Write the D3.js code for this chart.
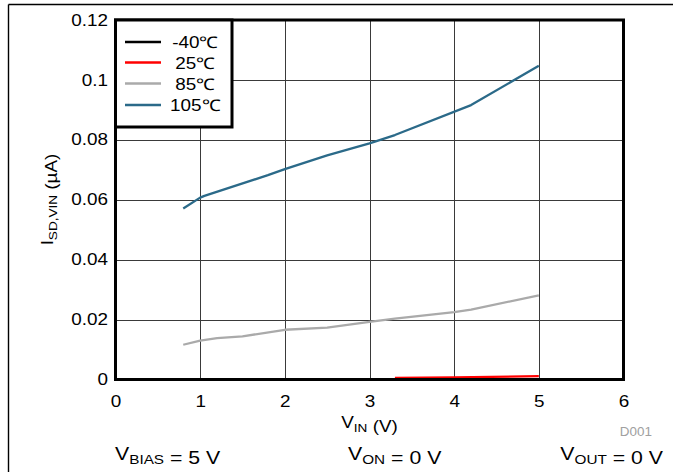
<!DOCTYPE html>
<html>
<head>
<meta charset="utf-8">
<script src="https://cdn.jsdelivr.net/npm/d3@7"></script>
<style>
  html, body { margin: 0; padding: 0; background: #fff; }
  svg { display: block; }
  text { font-family: "Liberation Sans", Arial, sans-serif; }
</style>
</head>
<body>
<svg id="chart" width="673" height="472"></svg>
<script>
// Shutdown current on VIN versus input voltage, one line per temperature
const seriesNames = ["-40\u2103", "25\u2103", "85\u2103", "105\u2103"];
const seriesColors = ["#000000", "#ff0000", "#aaaaaa", "#2b6a89"];

const vinM40 = [3.3, 4.0, 5.0];
const isdM40 = [0.0, 0.0, 0.0];

const vin25 = [3.3, 4.0, 5.0];
const isd25 = [0.0005, 0.0007, 0.0011];

const vin85 = [0.8, 1.0, 1.2, 1.5, 2.0, 2.5, 3.0, 3.3, 4.0, 4.2, 5.0];
const isd85 = [0.0116, 0.0130, 0.0138, 0.0144, 0.0166, 0.0173, 0.0192, 0.0203, 0.0225, 0.0233, 0.0281];

const vin105 = [0.8, 1.0, 1.05, 1.8, 2.0, 2.5, 3.0, 3.3, 4.2, 5.0];
const isd105 = [0.0571, 0.0607, 0.0613, 0.0682, 0.0702, 0.0748, 0.0788, 0.0816, 0.0916, 0.1047];

const xTicks = [0, 1, 2, 3, 4, 5, 6];
const yTicks = [0, 0.02, 0.04, 0.06, 0.08, 0.1, 0.12];
const yTickLabels = ["0", "0.02", "0.04", "0.06", "0.08", "0.1", "0.12"];

const seriesX = [vinM40, vin25, vin85, vin105];
const seriesY = [isdM40, isd25, isd85, isd105];

const svg = d3.select("#chart");
const W = 673, H = 472;
const plot = { left: 115.5, right: 623.5, top: 20, bottom: 379.5 };
const SX = 1.18; // horizontal stretch of the lettering

const x = d3.scaleLinear().domain([0, 6]).range([plot.left, plot.right]);
const y = d3.scaleLinear().domain([0, 0.12]).range([plot.bottom, plot.top]);

// outer frame: top rule and left rule
svg.append("line").attr("x1", 8.5).attr("x2", W).attr("y1", 4.5).attr("y2", 4.5)
  .attr("stroke", "#000").attr("stroke-width", 1.4);
svg.append("line").attr("x1", 8.5).attr("x2", 8.5).attr("y1", 4.5).attr("y2", H)
  .attr("stroke", "#000").attr("stroke-width", 1.4);

// grid
const grid = svg.append("g");
grid.selectAll("line.v").data(xTicks.slice(1, -1)).join("line")
  .attr("x1", d => Math.round(x(d)) + 0.5).attr("x2", d => Math.round(x(d)) + 0.5)
  .attr("y1", plot.top).attr("y2", plot.bottom)
  .attr("stroke", "#3a3a3a").attr("stroke-width", 1);
grid.selectAll("line.h").data(yTicks.slice(1, -1)).join("line")
  .attr("x1", plot.left).attr("x2", plot.right)
  .attr("y1", d => Math.round(y(d)) + 0.5).attr("y2", d => Math.round(y(d)) + 0.5)
  .attr("stroke", "#3a3a3a").attr("stroke-width", 1);

// series lines
const line = d3.line().x(d => x(d[0])).y(d => y(d[1]));
seriesNames.forEach((name, i) => {
  const pts = seriesX[i].map((v, j) => [v, seriesY[i][j]]);
  svg.append("path").datum(pts)
    .attr("d", line)
    .attr("fill", "none")
    .attr("stroke", seriesColors[i])
    .attr("stroke-width", 2.3)
    .attr("stroke-linejoin", "round");
});

// plot frame
svg.append("rect")
  .attr("x", plot.left).attr("y", plot.top)
  .attr("width", plot.right - plot.left).attr("height", plot.bottom - plot.top)
  .attr("fill", "none").attr("stroke", "#000").attr("stroke-width", 3);

// axes (labels only; the frame and grid are drawn above)
const yAxis = svg.append("g").attr("transform", `translate(${plot.left},0)`)
  .call(d3.axisLeft(y).tickValues(yTicks).tickFormat((d, i) => yTickLabels[i]).tickSize(0).tickPadding(7.5));
const xAxis = svg.append("g").attr("transform", `translate(0,${plot.bottom})`)
  .call(d3.axisBottom(x).tickValues(xTicks).tickFormat(d3.format("d")).tickSize(0).tickPadding(16));
[yAxis, xAxis].forEach(a => {
  a.select(".domain").remove();
  a.selectAll("text")
    .attr("font-family", "'Liberation Sans', Arial, sans-serif")
    .attr("font-size", 16)
    .attr("fill", "#000")
    .each(function () {
      const t = d3.select(this);
      const tx = +t.attr("x") || 0, ty = +t.attr("y") || 0;
      t.attr("x", null).attr("y", null)
        .attr("transform", `translate(${tx},${ty}) scale(${SX},1)`);
    });
});

// text with an optional subscript: parts = [[text, isSub], ...]
function label(g, px, py, parts, size, anchor, rotate, sx) {
  const t = g.append("text")
    .attr("font-size", size)
    .attr("fill", "#000")
    .attr("text-anchor", anchor)
    .attr("transform", `translate(${px},${py})` + (rotate ? ` rotate(${rotate})` : "") + ` scale(${sx || SX},1)`);
  parts.forEach(([s, sub]) => {
    t.append("tspan")
      .attr("font-size", sub ? size * 0.72 : size)
      .attr("dy", sub ? size * 0.22 : 0)
      .text(s);
    if (sub) t.append("tspan").attr("dy", -size * 0.22).text("");
  });
  return t;
}

// axis titles
label(svg, 369.5, 428, [["V", false], ["IN", true], [" (V)", false]], 16, "middle");
label(svg, 53, 199.5, [["I", false], ["SD,VIN", true], [" (\u00b5A)", false]], 16, "middle", -90);

// chart id
svg.append("text").attr("font-size", 12).style("fill", "#a0a0a0")
  .attr("text-anchor", "end")
  .attr("transform", `translate(652,436) scale(1.12,1)`)
  .text("D001");

// test conditions
label(svg, 115, 460, [["V", false], ["BIAS", true], [" = 5 V", false]], 19, "start", 0, 1.12);
label(svg, 348, 460, [["V", false], ["ON", true], [" = 0 V", false]], 19, "start", 0, 1.12);
label(svg, 663, 460, [["V", false], ["OUT", true], [" = 0 V", false]], 19, "end", 0, 1.12);

// legend
const lg = svg.append("g");
lg.append("rect")
  .attr("x", plot.left).attr("y", plot.top)
  .attr("width", 232 - plot.left).attr("height", 127 - plot.top)
  .attr("fill", "#fff").attr("stroke", "#000").attr("stroke-width", 3);
const legendY = [42, 62.5, 83.5, 105];
seriesNames.forEach((name, i) => {
  lg.append("line")
    .attr("x1", 125).attr("x2", 161)
    .attr("y1", legendY[i]).attr("y2", legendY[i])
    .attr("stroke", seriesColors[i]).attr("stroke-width", 2.3);
  lg.append("text")
    .attr("font-size", 16)
    .attr("fill", "#000")
    .attr("text-anchor", "middle")
    .attr("transform", `translate(195,${legendY[i] + 6}) scale(${SX},1)`)
    .text(name);
});
</script>
</body>
</html>
